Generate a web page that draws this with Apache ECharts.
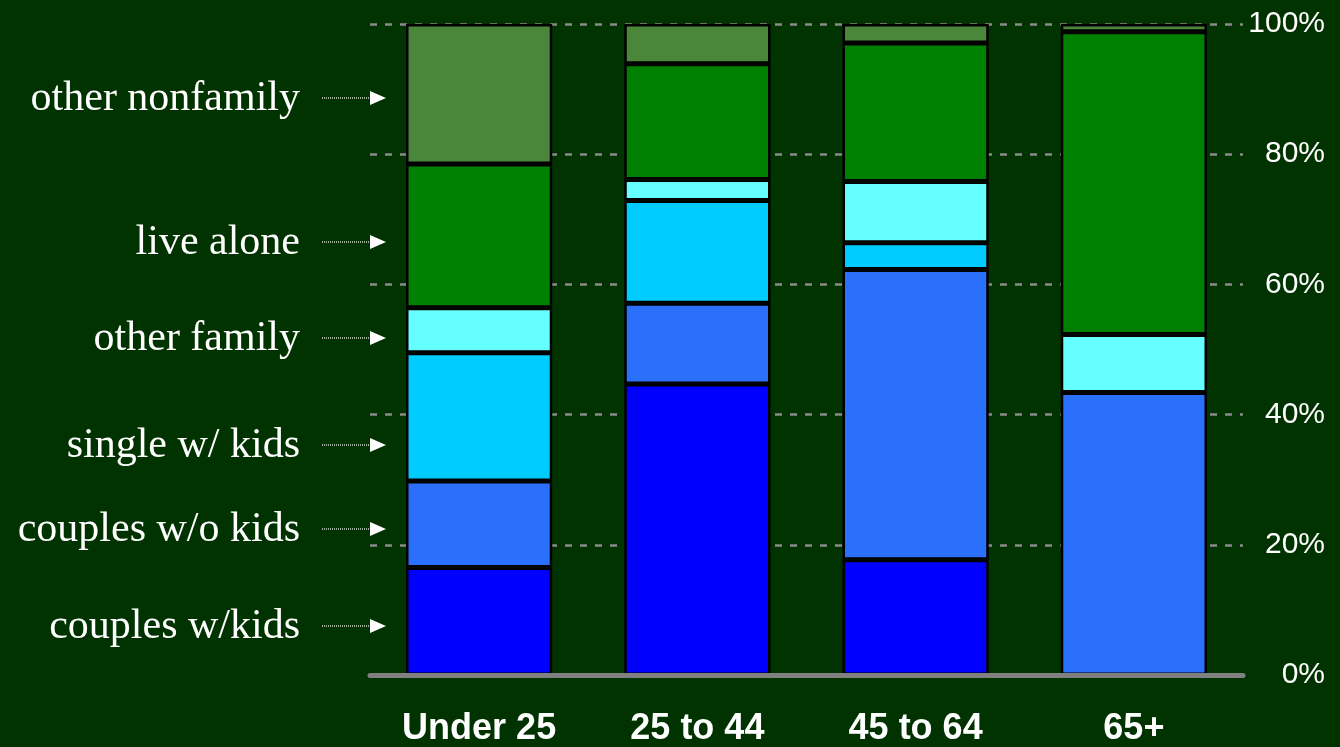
<!DOCTYPE html>
<html>
<head>
<meta charset="utf-8">
<script src="https://cdn.jsdelivr.net/npm/echarts@6/dist/echarts.min.js"></script>
<style>
html,body{margin:0;padding:0;background:#003300;}
#chart{width:1340px;height:747px;}
</style>
</head>
<body>
<div id="chart"></div>
<script>
// ---- data ----
var categories = ['Under 25', '25 to 44', '45 to 64', '65+'];
var seriesNames = ['couples w/kids', 'couples w/o kids', 'single w/ kids', 'other family', 'live alone', 'other nonfamily'];
var couplesWithKids    = [16.5, 44.7, 17.7, 0];
var couplesWithoutKids = [13.3, 12.4, 44.6, 43.4];
var singleWithKids     = [19.7, 15.8, 4.1, 0];
var otherFamily        = [6.9, 3.2, 9.4, 8.9];
var liveAlone          = [22.1, 17.8, 21.3, 46.5];
var otherNonfamily     = [21.5, 6.1, 2.9, 1.2];
var yTicks = [0, 20, 40, 60, 80, 100];

// ---- style ----
var colors = ['#0000ff', '#2a70fa', '#00ccff', '#66ffff', '#008000', '#4a873a'];
var labelY = [626, 529, 445, 338, 242, 98];
var allValues = [couplesWithKids, couplesWithoutKids, singleWithKids, otherFamily, liveAlone, otherNonfamily];

var chart = echarts.init(document.getElementById('chart'));

var series = allValues.map(function (vals, i) {
  return {
    name: seriesNames[i],
    type: 'bar',
    stack: 'total',
    data: vals,
    barWidth: '67%',
    itemStyle: { color: colors[i], borderColor: '#000000', borderWidth: 2.5 },
    z: 3
  };
});

var graphics = [];
seriesNames.forEach(function (name, i) {
  var y = labelY[i];
  graphics.push({
    type: 'text', right: 1340 - 300, top: y - 20,
    style: { text: name, fill: '#ffffff', font: '42px "Liberation Serif", "Times New Roman", serif', textAlign: 'right' }
  });
  graphics.push({
    type: 'line',
    shape: { x1: 322, y1: y, x2: 371, y2: y },
    style: { stroke: '#ffffff', lineWidth: 1.2, lineDash: [1, 1] }
  });
  graphics.push({
    type: 'polygon',
    shape: { points: [[370, y - 7], [386, y], [370, y + 7]] },
    style: { fill: '#ffffff' }
  });
});

chart.setOption({
  backgroundColor: '#003300',
  animation: false,
  grid: { left: 370, right: 97, top: 24, bottom: 69, containLabel: false },
  xAxis: {
    type: 'category',
    data: categories,
    axisLine: { show: true, lineStyle: { color: '#808080', width: 5 } },
    axisTick: { show: false },
    axisLabel: { color: '#ffffff', fontSize: 36, fontWeight: 'bold', fontFamily: '"Liberation Sans", Arial, sans-serif', margin: 36 },
    z: 5
  },
  yAxis: {
    type: 'value',
    position: 'right',
    min: yTicks[0],
    max: yTicks[yTicks.length - 1],
    interval: yTicks[1] - yTicks[0],
    axisLine: { show: false },
    axisTick: { show: false },
    axisLabel: { formatter: '{value}%', color: '#ffffff', fontSize: 30, fontFamily: '"Liberation Sans", Arial, sans-serif', align: 'right', margin: 82 },
    splitLine: { show: true, lineStyle: { color: '#8a8a8a', width: 2.5, type: [7, 8] } }
  },
  series: series,
  graphic: graphics
});
</script>
</body>
</html>
